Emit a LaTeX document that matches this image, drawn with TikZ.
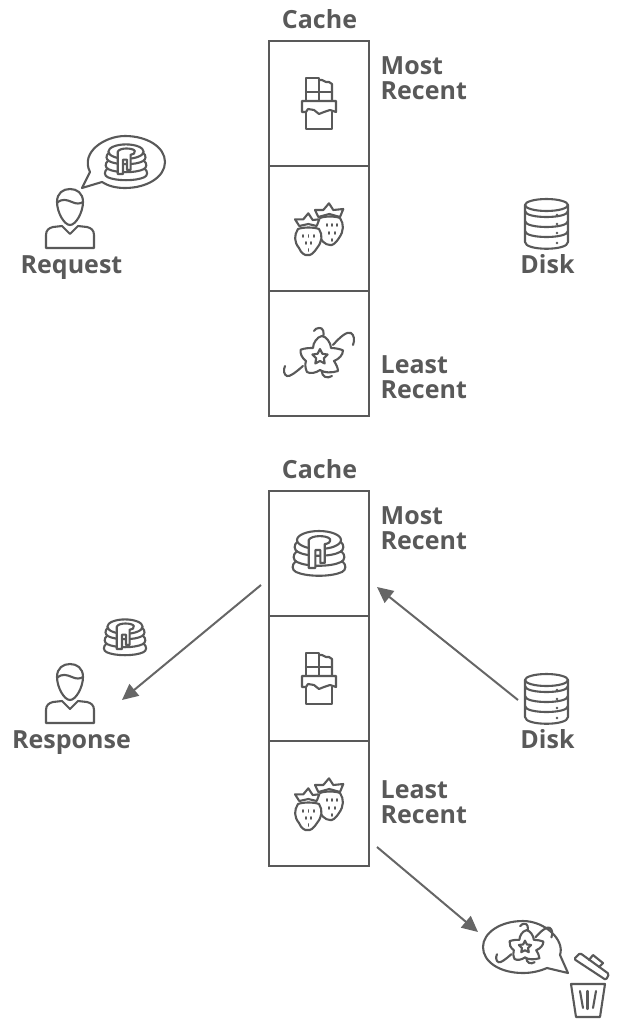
\documentclass[tikz,border=0pt]{standalone}
\usepackage{fontspec}
\setmainfont{Open Sans}
\usetikzlibrary{arrows.meta}
\definecolor{ink}{HTML}{595959}
\definecolor{arrowink}{HTML}{666666}
\tikzset{
  icon/.style={draw=ink,line width=2.1pt,line cap=round,line join=round},
  iconfill/.style={icon,fill=white},
  cachebox/.style={draw=ink,line width=2pt,minimum width=100pt,minimum height=125pt,inner sep=0pt,outer sep=0pt},
  lbl/.style={text=ink,font=\fontsize{25}{27}\selectfont\bfseries,inner sep=0pt,anchor=base},
  lblleft/.style={lbl,anchor=base west},
  flow/.style={draw=arrowink,line width=2pt,-{Triangle[length=16pt,width=15pt]}},
  person/.pic={
    \draw[icon] (-24,28) -- (-24,15) .. controls (-24,10) and (-21,8) .. (-17,7) -- (-8,6) -- (0,14) -- (8,6) -- (17,7) .. controls (21,8) and (24,10) .. (24,15) -- (24,28) -- cycle;
    \draw[iconfill] (-13,-18) .. controls (-13,-27) and (-7,-31) .. (0,-31) .. controls (7,-31) and (13,-27) .. (13,-18) .. controls (13,-8) and (6,5) .. (0,5) .. controls (-6,5) and (-13,-8) .. (-13,-18) -- cycle;
    \draw[icon] (-13,-17) .. controls (-8,-22) and (-3,-20) .. (2,-18) .. controls (6,-16) and (10,-16) .. (13,-18);
  },
  pancake/.pic={
    \foreach \d/\w in {20/2,10/1,0/0}{
      \draw[iconfill] (-21-\w,-12+\d) .. controls (-26-\w,-8+\d) and (-25-\w,-3+\d) .. (-21-\w,-1+\d) .. controls (-12,4+\d) and (12,4+\d) .. (21+\w,-1+\d) .. controls (25+\w,-3+\d) and (26+\w,-8+\d) .. (21+\w,-12+\d);
    }
    \draw[iconfill] (0,-13) ellipse [x radius=22,y radius=9];
    \draw[iconfill] (-10.3,-13) -- (-10.3,15) -- (-3.7,15) -- (-3.7,-3) -- (1.3,-3) -- (1.3,10) -- (5.7,10) -- (5.7,-9) .. controls (9,-9) and (12,-11) .. (11,-14) .. controls (8,-18) and (-8,-18) .. (-10.3,-13) -- cycle;
  },
  choco/.pic={
    \draw[icon] (-13,-2) -- (-13,-25) -- (0,-25) -- (0,-2);
    \draw[icon] (-13,-11) -- (13,-11);
    \draw[icon] (0,-23) -- (3,-23) -- (7,-21) -- (10,-21) -- (13,-19) -- (13,-2);
    \draw[icon] (-13,9) -- (-13,26) -- (13,26) -- (13,9);
    \draw[iconfill] (-17,-2) -- (17,-2) -- (17,9) -- (11,7) -- (5,9) -- (0,11) -- (-5,7) -- (-11,6) -- (-13,9) -- (-17,9) -- cycle;
  },
  berries/.pic={
    \draw[iconfill] (1,-11) .. controls (6,-13) and (16,-13) .. (21,-11) .. controls (25,-5) and (25,2) .. (20,9) .. controls (17,14) and (13,17) .. (11,16) .. controls (6,16) and (2,11) .. (-1,6);
    \draw[iconfill] (-4,-19) -- (4.3,-19) -- (10,-25.7) -- (14.3,-19) -- (24.3,-20) -- (21,-12) -- (10.3,-15) -- (-0.7,-12) -- cycle;
    \draw[iconfill] (-21,0) .. controls (-16,-2) and (-5,-2) .. (0,0) .. controls (4,6) and (3,13) .. (-2,19) .. controls (-5,24) and (-9,27) .. (-11,26) .. controls (-14,27) and (-18,24) .. (-20,19) .. controls (-25,13) and (-25,6) .. (-21,0) -- cycle;
    \draw[iconfill] (-24,-9.7) -- (-15.7,-9.7) -- (-10.7,-15.7) -- (-6.3,-9) -- (0.3,-9.7) -- (-2.3,-3) -- (-10.7,-5) -- (-19.7,-3) -- cycle;
    \foreach \x/\y in {-16/6,-10.5/6,-5/6,-13/13,-8/13,-10.5/20,8/-5,13/-5,18/-5,10/3,16/3,13/10}{
      \draw[icon,line width=1.9pt] (\x,\y) -- (\x,\y+2);
    }
  },
  vanilla/.pic={
    \draw[icon] (-17,9) .. controls (-24,15) and (-30,20) .. (-33,19) .. controls (-36,18) and (-37,13) .. (-35,9);
    \draw[icon] (2.7,-19) .. controls (5,-24) and (3,-30) .. (-1,-29) .. controls (-3,-29) and (-5,-28) .. (-6,-26);
    \draw[icon] (13,-12) .. controls (20,-20) and (27,-26) .. (31,-24) .. controls (34,-22) and (35,-17) .. (33,-12);
    \draw[icon] (1.7,14) .. controls (2,20) and (7,22) .. (12,19);
    \draw[iconfill] (1.7,-21) .. controls (6,-21) and (11,-14) .. (11,-9) .. controls (15,-9) and (20,-8) .. (23,-6.7) .. controls (23,-2) and (19,2) .. (14,4) .. controls (16,7) and (18,11) .. (18,14) .. controls (12,16) and (4,16) .. (0,13) .. controls (-4,16) and (-10,17) .. (-13,15) .. controls (-15,11) and (-15,7) .. (-14,4) .. controls (-18,1) and (-20,-3) .. (-19.3,-7.3) .. controls (-15,-9) and (-10,-9) .. (-7,-9) .. controls (-7,-14) and (-3,-20) .. (1.7,-21) -- cycle;
    \draw[icon] (90:-8) -- (126:-4) -- (162:-8) -- (198:-4) -- (234:-8) -- (270:-4) -- (306:-8) -- (342:-4) -- (18:-8) -- (54:-4) -- cycle;
  },
  diskicon/.pic={
    \draw[iconfill] (-21.5,-19) -- (-21.5,18) .. controls (-21.5,27) and (21.5,27) .. (21.5,18) -- (21.5,-19);
    \draw[icon] (0,-19) ellipse [x radius=21.5,y radius=6];
    \foreach \y in {-10,0,10}{
      \draw[icon] (-21.5,\y-3) .. controls (-21.5,\y+5) and (21.5,\y+5) .. (21.5,\y-3);
    }
    \foreach \y in {-9,0,9,19}{
      \fill[ink] (10.5,\y) circle (1.4pt);
    }
  },
}
\begin{document}
\begin{tikzpicture}[x=1pt,y=-1pt]
\useasboundingbox (0,0) rectangle (622,1028);
% top cache
\node[cachebox] (a1) at (319,103.5) {};
\node[cachebox] (a2) at (319,228.5) {};
\node[cachebox] (a3) at (319,353.5) {};
\node[lbl] (t1) at (319.5,28) {Cache};
\node[lblleft] (m1) at (380.5,74.5) {Most};
\node[lblleft] (r1) at (380.5,99.5) {Recent};
\node[lblleft] (l1) at (380.5,373.5) {Least};
\node[lblleft] (q1) at (380.5,398.5) {Recent};
\pic at (319,103) {choco};
\pic at (319,229) {berries};
\pic at (320,357) {vanilla};
\pic at (70,220) {person};
\draw[iconfill] (90,172) .. controls (80,152) and (105,136) .. (125,136) .. controls (147,136) and (165,147) .. (165,162) .. controls (165,177) and (147,188) .. (125,188) .. controls (116,188) and (108,186) .. (102,182) -- (82,188) -- cycle;
\pic[scale=.8] at (126,162) {pancake};
\node[lbl] (req) at (71.5,273) {Request};
\pic at (546.5,224) {diskicon};
\node[lbl] (d1) at (547.5,273) {Disk};
% bottom cache
\node[cachebox] (b1) at (319,553.5) {};
\node[cachebox] (b2) at (319,678.5) {};
\node[cachebox] (b3) at (319,803.5) {};
\node[lbl] (t2) at (319.5,478) {Cache};
\node[lblleft] (m2) at (380.5,524.5) {Most};
\node[lblleft] (r2) at (380.5,549.5) {Recent};
\node[lblleft] (l2) at (380.5,798.5) {Least};
\node[lblleft] (q2) at (380.5,823.5) {Recent};
\pic at (319,553) {pancake};
\pic at (319,678) {choco};
\pic at (319,804) {berries};
\pic[scale=.8] at (125,637) {pancake};
\pic at (70,695) {person};
\node[lbl] (resp) at (71.5,748) {Response};
\pic at (546.5,699) {diskicon};
\node[lbl] (d2) at (547.5,748) {Disk};
% discarded item
\draw[iconfill] (560,955) .. controls (565,940) and (545,921) .. (523,921) .. controls (500,921) and (483,933) .. (483,947) .. controls (483,962) and (500,973) .. (523,973) .. controls (532,973) and (540,971) .. (547,968) -- (568,973) -- cycle;
\pic[scale=.8] at (525,947) {vanilla};
\draw[icon,rounded corners=1.5pt] (574,959) -- (580,953) -- (609,974) -- (606,980) -- cycle;
\draw[icon] (589,960) -- (593,955) -- (603,963) -- (599,967);
\draw[icon] (571,984) -- (605,984) -- (600,1017) -- (576,1017) -- cycle;
\draw[icon] (580,991) -- (583,1008);
\draw[icon] (587.5,991) -- (587.5,1009);
\draw[icon] (596,991) -- (593,1008);
% connectors
\coordinate (e1) at (261,585);
\coordinate (e2) at (122,700);
\coordinate (e3) at (518,700);
\coordinate (e4) at (377,587);
\coordinate (e5) at (377,847);
\coordinate (e6) at (478,932);
\draw[flow] (e1) -- (e2);
\draw[flow] (e3) -- (e4);
\draw[flow] (e5) -- (e6);
\end{tikzpicture}
\end{document}
